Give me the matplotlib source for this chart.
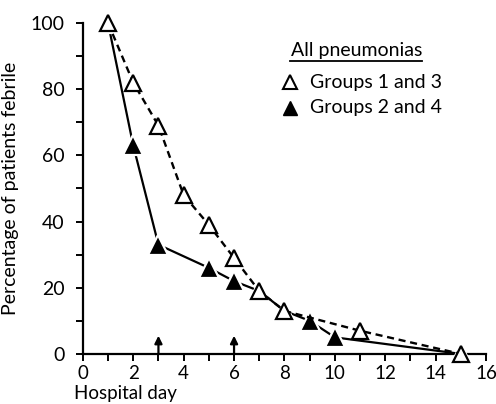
import matplotlib
matplotlib.use("Agg")
import matplotlib.pyplot as plt
from matplotlib.lines import Line2D

# values
days_open = [1, 2, 3, 4, 5, 6, 7, 8, 11, 15]
pct_open = [100, 82, 69, 48, 39, 29, 19, 13, 7, 0]
days_filled = [1, 2, 3, 5, 6, 7, 8, 9, 10, 15]
pct_filled = [100, 63, 33, 26, 22, 19, 13, 10, 5, 0]
arrow_days = [3, 6]

xticks = [0, 2, 4, 6, 8, 10, 12, 14, 16]
yticks = [0, 20, 40, 60, 80, 100]

plt.rcParams['font.family'] = ['Lato', 'DejaVu Sans']

fig = plt.figure(figsize=(4.96, 4.04), dpi=100)
ax = fig.add_axes([0.167, 0.124, 0.813, 0.819])

ax.plot(days_filled, pct_filled, color='black', linestyle='-', linewidth=1.6,
        marker='^', markersize=14.5, markerfacecolor='black', markeredgecolor='white',
        markeredgewidth=1.6, clip_on=False, zorder=3)
ax.plot(days_open, pct_open, color='black', linestyle=(0, (3, 2)), linewidth=1.7,
        marker='^', markersize=11, markerfacecolor='white', markeredgecolor='black',
        markeredgewidth=1.6, clip_on=False, zorder=4)

# arrows marking days 3 and 6
for d in arrow_days:
    ax.annotate('', xy=(d, 5.5), xytext=(d, 0),
                arrowprops=dict(arrowstyle='-|>', color='black', lw=1.6,
                                mutation_scale=11, shrinkA=0, shrinkB=0))

ax.set_xlim(0, 16)
ax.set_ylim(0, 100)
ax.spines['top'].set_visible(False)
ax.spines['right'].set_visible(False)
ax.spines['left'].set_linewidth(1.6)
ax.spines['bottom'].set_linewidth(1.6)
ax.set_xticks(xticks)
ax.set_xticks(range(0, 17), minor=True)
ax.set_yticks(yticks)
ax.set_yticks(range(0, 101, 10), minor=True)
ax.tick_params(which='both', direction='out', width=1.4, length=5, labelsize=14)
ax.tick_params(axis='y', pad=8)
ax.tick_params(axis='x', pad=3, labelsize=13.5)
ax.set_xlabel('Hospital day', fontsize=13.5)
ax.xaxis.set_label_coords(0.105, -0.093)
ax.set_ylabel('Percentage of patients febrile', fontsize=14)
ax.yaxis.set_label_coords(-0.158, 0.5)

# legend, drawn by hand
fig.text(0.587, 0.876, 'All pneumonias', fontsize=14, va='center', ha='left')
fig.add_artist(Line2D([0.585, 0.85], [0.849, 0.849], color='black', linewidth=1.3))
fig.add_artist(Line2D([0.585], [0.797], linestyle='none', marker='^', markersize=10,
                      markerfacecolor='white', markeredgecolor='black', markeredgewidth=1.5))
fig.text(0.625, 0.797, 'Groups 1 and 3', fontsize=14, va='center', ha='left')
fig.add_artist(Line2D([0.585], [0.733], linestyle='none', marker='^', markersize=10,
                      markerfacecolor='black', markeredgecolor='black'))
fig.text(0.625, 0.733, 'Groups 2 and 4', fontsize=14, va='center', ha='left')

fig.savefig('out.png', dpi=100)
